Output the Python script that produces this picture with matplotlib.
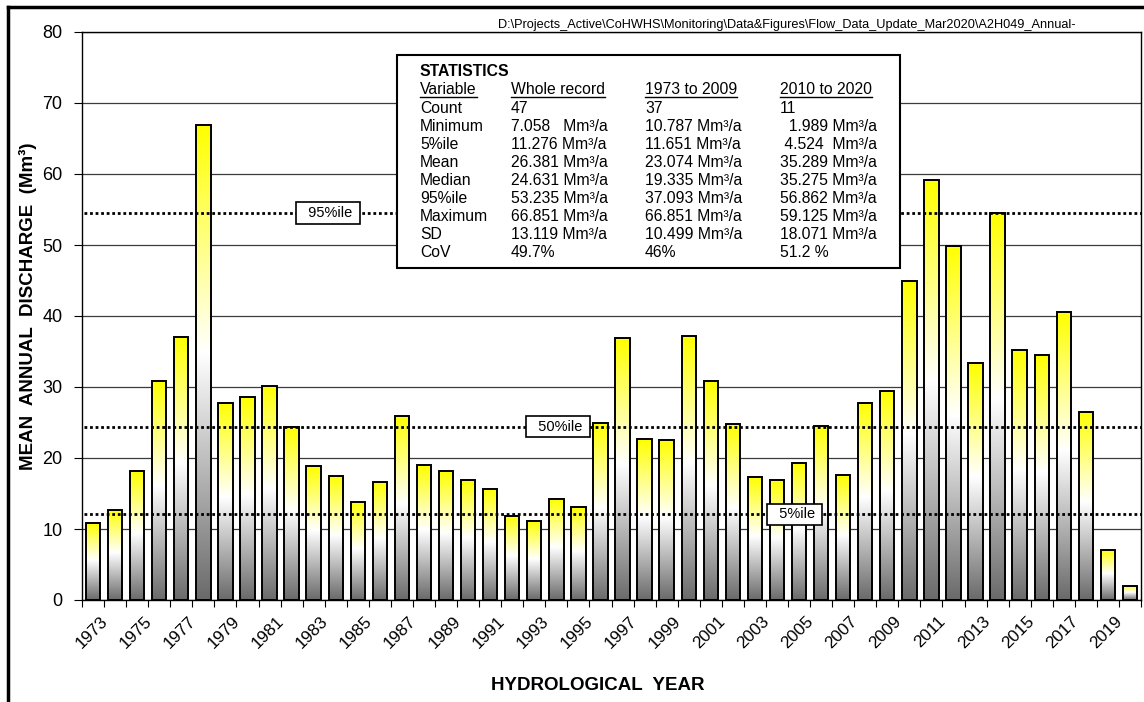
import matplotlib
matplotlib.use('Agg')
import matplotlib.pyplot as plt
import numpy as np
from matplotlib.colors import LinearSegmentedColormap
from matplotlib.patches import Rectangle
from matplotlib.lines import Line2D
from matplotlib.transforms import ScaledTranslation

plt.rcParams['font.family'] = ['Liberation Sans', 'DejaVu Sans']

# ---------------- data ----------------
years = list(range(1973, 2021))
discharge = [10.79, 12.69, 18.16, 30.90, 37.09, 66.85, 27.80, 28.56, 30.15, 24.34,
             18.82, 17.51, 13.86, 16.67, 25.98, 19.00, 18.16, 16.85, 15.69, 11.84,
             11.09, 14.28, 13.11, 24.86, 36.89, 22.66, 22.52, 37.12, 30.85, 24.77,
             17.32, 16.85, 19.34, 24.53, 17.56, 27.76, 29.49, 44.90, 59.125, 49.90,
             33.33, 54.50, 35.25, 34.55, 40.50, 26.50, 7.058, 1.989]
tick_years = [str(y) for y in years[::2]]

ref_labels = ['95%ile', '50%ile', '5%ile']
ref_values = [54.5, 24.4, 12.05]
ref_label_pos = [0.232, 0.4495, 0.673]

stat_headers = ['Variable', 'Whole record', '1973 to 2009', '2010 to 2020']
stat_names = ['Count', 'Minimum', '5%ile', 'Mean', 'Median', '95%ile', 'Maximum', 'SD', 'CoV']
stat_whole = ['47', '7.058   Mm³/a', '11.276 Mm³/a', '26.381 Mm³/a', '24.631 Mm³/a',
              '53.235 Mm³/a', '66.851 Mm³/a', '13.119 Mm³/a', '49.7%']
stat_early = ['37', '10.787 Mm³/a', '11.651 Mm³/a', '23.074 Mm³/a', '19.335 Mm³/a',
              '37.093 Mm³/a', '66.851 Mm³/a', '10.499 Mm³/a', '46%']
stat_late = ['11', '  1.989 Mm³/a', ' 4.524  Mm³/a', '35.289 Mm³/a', '35.275 Mm³/a',
             '56.862 Mm³/a', '59.125 Mm³/a', '18.071 Mm³/a', '51.2 %']

file_path = r"D:\Projects_Active\CoHWHS\Monitoring\Data&Figures\Flow_Data_Update_Mar2020\A2H049_Annual-"

# ---------------- figure ----------------
W, H = 1144, 702
fig = plt.figure(figsize=(W / 100, H / 100), dpi=100)

def fx(px):
    return px / W

def fy(py):
    return 1 - py / H

ax = fig.add_axes([fx(82), fy(600), fx(1141) - fx(82), fy(32) - fy(600)])

x = np.arange(len(years))
bars = ax.bar(x, discharge, width=0.65, facecolor='none', edgecolor='black',
              linewidth=1.4, zorder=3)

cmap = LinearSegmentedColormap.from_list(
    'grad', [(0.0, '#6a6a6a'), (0.52, '#ffffff'), (1.0, '#ffff00')])
grad = np.linspace(0, 1, 256).reshape(-1, 1)
for b in bars:
    x0 = b.get_x(); w = b.get_width(); h = b.get_height()
    im = ax.imshow(grad, extent=[x0, x0 + w, 0, h], origin='lower', cmap=cmap,
                   aspect='auto', zorder=2.5, interpolation='bilinear')
    im.set_clip_path(b)

ax.set_xlim(-0.5, len(years) - 0.5)
ax.set_ylim(0, 80)
ax.set_yticks(range(0, 81, 10))
ax.yaxis.grid(True, color='#3c3c3c', linewidth=0.9)
ax.set_axisbelow(True)

# category tick marks at boundaries; labels every other year
ax.set_xticks(np.arange(-0.5, len(years), 1))
ax.set_xticklabels([])
ax.tick_params(axis='x', length=5, width=0.8, direction='out')
lab_tr = ax.get_xaxis_transform() + ScaledTranslation(12 / 100, -19 / 100,
                                                       fig.dpi_scale_trans)
for xi, lab in zip(x[::2], tick_years):
    ax.text(xi, 0, lab, transform=lab_tr, rotation=45, rotation_mode='anchor',
            ha='right', va='center', fontsize=12.3, clip_on=False)

ax.tick_params(axis='y', length=6, width=0.8, direction='out', labelsize=13, pad=8)
for s in ax.spines.values():
    s.set_color('black')
    s.set_linewidth(1.0)

for lab, val, pos in zip(ref_labels, ref_values, ref_label_pos):
    ax.axhline(val, xmin=0.002, color='black', linestyle=(0, (1, 1)), linewidth=2,
               zorder=4)
    ax.text(pos, val, '  ' + lab + ' ', transform=ax.get_yaxis_transform(),
            ha='center', va='center', fontsize=10.5, zorder=6,
            bbox=dict(boxstyle='square,pad=0.25', fc='white', ec='black', lw=1.2))

# axis titles
fig.text(fx(28), fy(306), 'MEAN  ANNUAL  DISCHARGE  (Mm³)', rotation=90,
         ha='center', va='center', fontsize=13.5, fontweight='bold')
fig.text(fx(598), fy(685), 'HYDROLOGICAL  YEAR', ha='center', va='center',
         fontsize=13.5, fontweight='bold')

# file path
fig.text(fx(498), fy(25), file_path, ha='left', va='center', fontsize=9.2)

# outer frame (partially visible)
fig.add_artist(Line2D([fx(8), fx(8)], [0, fy(7)], color='black', lw=2.5,
                      transform=fig.transFigure))
fig.add_artist(Line2D([fx(8), 1], [fy(7), fy(7)], color='black', lw=2.5,
                      transform=fig.transFigure))

# statistics box
box = Rectangle((fx(397), fy(268)), fx(900) - fx(397), fy(55) - fy(268),
                transform=fig.transFigure, facecolor='white', edgecolor='black',
                lw=1.5, zorder=5)
fig.add_artist(box)

fs = 11.3
col_x = [420, 511, 645, 780]
fig.text(fx(420), fy(76), 'STATISTICS', fontsize=fs, fontweight='bold',
         va='baseline', ha='left', zorder=6)
hdr_texts = []
for cx, hdr in zip(col_x, stat_headers):
    t = fig.text(fx(cx), fy(94.5), hdr, fontsize=fs, va='baseline', ha='left', zorder=6)
    hdr_texts.append(t)
row_h = 18.1
for i in range(len(stat_names)):
    by = 94.5 + row_h * (i + 1)
    for cx, col in zip(col_x, [stat_names, stat_whole, stat_early, stat_late]):
        fig.text(fx(cx), fy(by), col[i], fontsize=fs, va='baseline', ha='left', zorder=6)

fig.canvas.draw()
r = fig.canvas.get_renderer()
for t in hdr_texts:
    bb = t.get_window_extent(r)
    fig.add_artist(Line2D([bb.x0 / W, bb.x1 / W], [fy(96.5), fy(96.5)], color='black',
                          lw=1.0, transform=fig.transFigure, zorder=7))

fig.savefig('out.png', dpi=100)
